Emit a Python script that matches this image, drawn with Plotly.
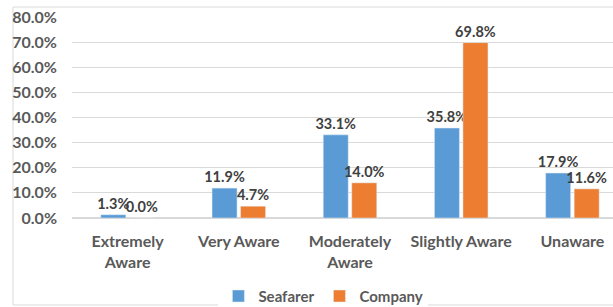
import plotly.graph_objects as go

categories = ["Extremely<br>Aware", "Very Aware", "Moderately<br>Aware", "Slightly Aware", "Unaware"]
seafarer = [1.3, 11.9, 33.1, 35.8, 17.9]
company = [0.0, 4.7, 14.0, 69.8, 11.6]
y_ticks = [0, 10, 20, 30, 40, 50, 60, 70, 80]
y_tick_labels = [f"{v:.1f}%" for v in y_ticks]

W, H = 628, 307
L, R, T, B = 72, 0, 17, 89
FONT = "Lato"
FS = 16

fig = go.Figure()
for name, vals, col in [("Seafarer", seafarer, "#5B9BD5"), ("Company", company, "#ED7D31")]:
    fig.add_trace(go.Bar(
        x=categories, y=vals, name=name, marker_color=col,
        text=[f"{v:.1f}%" for v in vals], textposition="outside",
        constraintext="none", cliponaxis=False,
        textfont=dict(family=FONT, size=14.5, color="#404040", weight="bold"),
    ))

pw = W - L - R
ph = H - T - B
fig.update_layout(
    width=W, height=H,
    margin=dict(l=L, r=R, t=T, b=B, autoexpand=False),
    plot_bgcolor="white", paper_bgcolor="white",
    barmode="group", bargap=0.487, bargroupgap=0.123,
    font=dict(family=FONT, size=FS, color="#595959"),
    showlegend=True,
    legend=dict(orientation="h", xref="container", yref="container",
                x=0.515, xanchor="center", y=0.035, yanchor="middle",
                font=dict(family=FONT, size=15, color="#595959", weight="bold"),
                itemwidth=30, traceorder="normal"),
    xaxis=dict(showgrid=False, showline=False, ticks="", ticklabelstandoff=12,
               tickfont=dict(family=FONT, size=FS, color="#595959", weight="bold")),
    yaxis=dict(range=[0, 80], tickvals=y_ticks, ticktext=y_tick_labels,
               gridcolor="#D9D9D9", gridwidth=1, zeroline=True, zerolinecolor="#D9D9D9",
               showline=False, ticks="", ticklabelstandoff=14,
               tickfont=dict(family=FONT, size=FS, color="#595959", weight="bold")),
    shapes=[dict(type="rect", xref="paper", yref="paper",
                 x0=(13 - L) / pw, x1=(626 - L) / pw,
                 y0=(H - B - 305) / ph, y1=(H - B - 7) / ph,
                 line=dict(color="#D9D9D9", width=1), fillcolor="rgba(0,0,0,0)", layer="below")],
)
fig.write_html("out.html", config={"displayModeBar": False})

with open("out.html", "r", encoding="utf-8") as f:
    html = f.read()
html = html.replace("<head>", "<head><style>html,body{margin:0;padding:0;overflow:hidden;}</style>", 1)
with open("out.html", "w", encoding="utf-8") as f:
    f.write(html)
